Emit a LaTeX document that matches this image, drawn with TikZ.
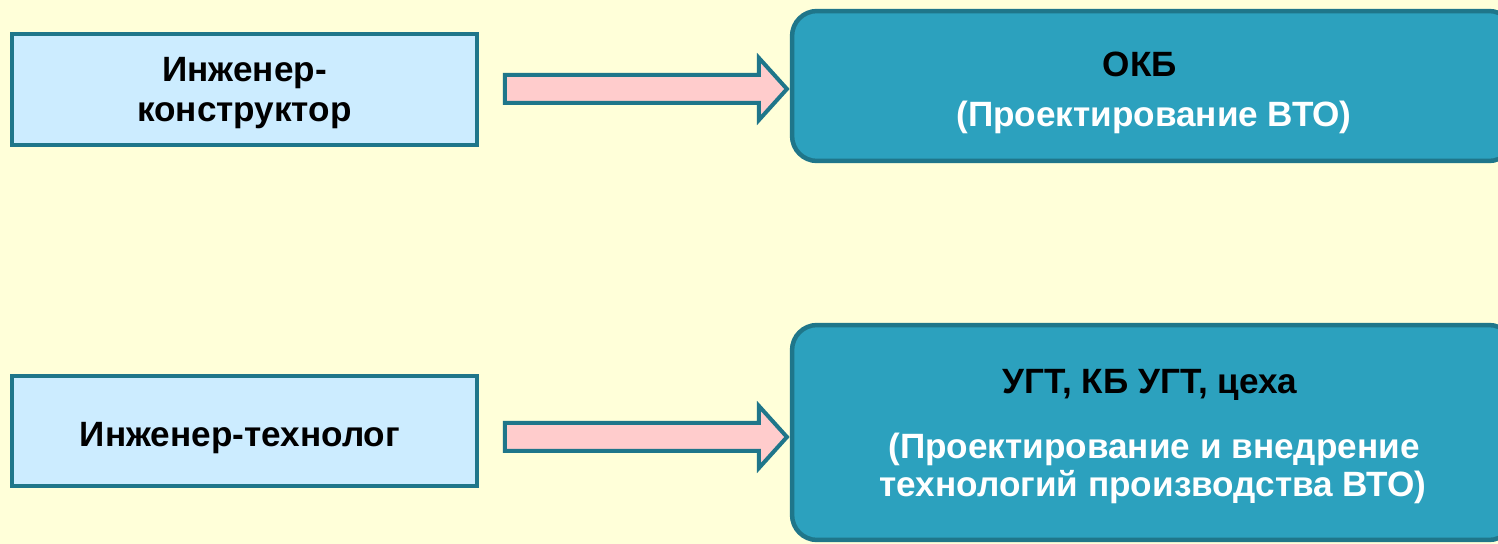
\documentclass[tikz,border=0pt]{standalone}
\usepackage{fontspec}
\setmainfont{Liberation Sans}
\usetikzlibrary{calc}
\definecolor{bgyellow}{RGB}{255,255,217}
\definecolor{tealline}{RGB}{31,118,138}
\definecolor{tealfill}{RGB}{44,161,190}
\definecolor{rolefill}{RGB}{204,236,255}
\definecolor{arrowpink}{RGB}{255,204,204}
\tikzset{
  rolebox/.style={draw=tealline,fill=rolefill,line width=0.08cm,minimum width=9.3cm},
  deptbox/.style={draw=tealline,fill=tealfill,line width=0.09cm,rounded corners=0.5cm,minimum width=14.44cm},
  blockarrow/.style={draw=tealline,fill=arrowpink,line width=0.08cm},
  txt/.style={font=\bfseries\fontsize{20}{24}\selectfont,anchor=base,inner sep=0pt}
}
\begin{document}
\begin{tikzpicture}[x=0.02cm,y=0.02cm]
\useasboundingbox (0,0) rectangle (1498,544);
\clip (0,0) rectangle (1498,544);
\fill[bgyellow] (0,0) rectangle (1498,544);
% roles on the left
\node[rolebox,minimum height=2.22cm] (designer) at (244.5,454.5) {};
\node[rolebox,minimum height=2.2cm] (technologist) at (244.5,113) {};
% departments on the right
\node[deptbox,minimum height=3cm] (okb) at (1153,458) {};
\node[deptbox,minimum height=4.3cm] (ugt) at (1153,111.5) {};
% texts
\node[txt] (designer1) at (244.5,462.3) {Инженер-};
\node[txt] (designer2) at (244.5,422.3) {конструктор};
\node[txt] (technologist1) at (240,97) {Инженер-технолог};
\node[txt] (okb1) at (1140,467) {ОКБ};
\node[txt,white] (okb2) at (1154,417) {(Проектирование ВТО)};
\node[txt] (ugt1) at (1150,150) {УГТ, КБ УГТ, цеха};
\node[txt,white] (ugt2) at (1154,85) {(Проектирование и внедрение};
\node[txt,white] (ugt3) at (1153,47) {технологий производства ВТО)};
% block arrows
\coordinate (a1) at ($(designer.east)+(26,0.5)$);
\coordinate (a2) at ($(technologist.east)+(26,-6)$);
\foreach \s in {a1,a2}
  \draw[blockarrow] (\s) -- ++(0,14) -- ++(254,0) -- ++(0,17) -- ++(28,-31)
    -- ++(-28,-31) -- ++(0,17) -- ++(-254,0) -- cycle;
\end{tikzpicture}
\end{document}
